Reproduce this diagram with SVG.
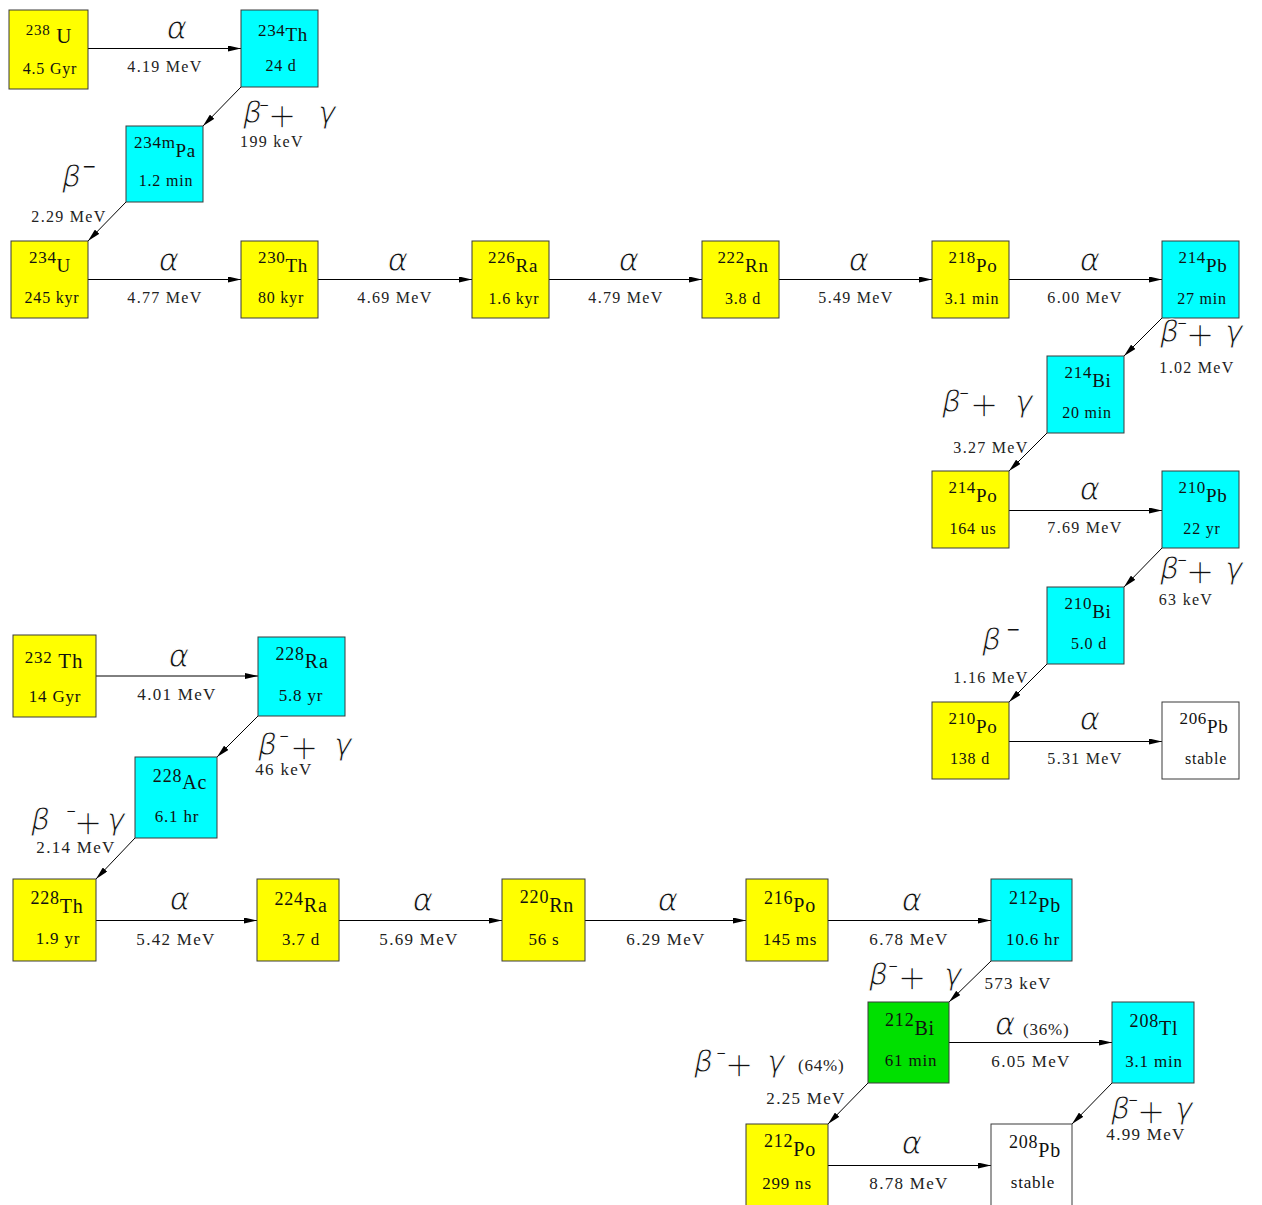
<svg xmlns="http://www.w3.org/2000/svg" width="1262" height="1205" viewBox="0 0 1262 1205">
<style>
.bx{stroke:#3a3a3a;stroke-width:1}
.y{fill:#ffff00}.c{fill:#00ffff}.g{fill:#00e000}.w{fill:#ffffff}
text{font-family:"Liberation Serif","Times New Roman",serif;fill:#111}
.iu{text-anchor:middle;letter-spacing:0.7px}
.iu .a{font-size:17px}.iu .s{font-size:19px}
.it{text-anchor:middle;letter-spacing:0.8px}
.it .a{font-size:18px}.it .s{font-size:20px}
.hu{font-size:16px;text-anchor:middle;letter-spacing:0.8px}
.ht{font-size:17px;text-anchor:middle;letter-spacing:0.8px}
.eu{font-size:16px;text-anchor:middle;letter-spacing:1.3px;fill:#222}
.et{font-size:17px;text-anchor:middle;letter-spacing:1.3px;fill:#222}
.gk{font-family:"DejaVu Sans",sans-serif;font-style:italic;font-size:30px;fill:#111;stroke:#fff;stroke-width:1px}
.al{font-family:"DejaVu Sans",sans-serif;font-style:italic;font-size:31px;text-anchor:middle;fill:#111;stroke:#fff;stroke-width:1px}
.mn{font-family:"DejaVu Sans",sans-serif;font-style:normal;font-size:12px;stroke:none}
.mn2{font-family:"DejaVu Sans",sans-serif;font-style:normal;font-size:17px;stroke:none}
.pl{font-family:"DejaVu Sans",sans-serif;font-style:normal;font-size:36px;stroke-width:1.5px}
.pc{font-family:"Liberation Serif","Times New Roman",serif;font-style:normal;font-size:17px;letter-spacing:0.8px;fill:#222;stroke:none}
.cn line{stroke:#000;stroke-width:1;marker-end:url(#ah)}
</style>
<defs>
<marker id="ah" viewBox="0 0 13 6" refX="13" refY="3" markerWidth="13" markerHeight="6" markerUnits="userSpaceOnUse" orient="auto"><path d="M0,0L13,3L0,6z" fill="#000"/></marker>
</defs>

<g id="connectors" class="cn">
<line x1="88" y1="48.5" x2="241" y2="48.5"/>
<line x1="241" y1="87" x2="203" y2="126"/>
<line x1="126" y1="202" x2="88" y2="241"/>
<line x1="88" y1="279.5" x2="241" y2="279.5"/>
<line x1="318" y1="279.5" x2="472" y2="279.5"/>
<line x1="549" y1="279.5" x2="702" y2="279.5"/>
<line x1="779" y1="279.5" x2="932" y2="279.5"/>
<line x1="1009" y1="279.5" x2="1162" y2="279.5"/>
<line x1="1162" y1="318" x2="1124" y2="356"/>
<line x1="1047" y1="433" x2="1009" y2="471"/>
<line x1="1009" y1="510.5" x2="1162" y2="510.5"/>
<line x1="1162" y1="548" x2="1124" y2="587"/>
<line x1="1047" y1="664" x2="1009" y2="702"/>
<line x1="1009" y1="741.5" x2="1162" y2="741.5"/>
<line x1="96" y1="676" x2="258" y2="676"/>
<line x1="258" y1="716" x2="217" y2="757"/>
<line x1="135" y1="838" x2="96" y2="879"/>
<line x1="96" y1="920.5" x2="257" y2="920.5"/>
<line x1="339" y1="920.5" x2="502" y2="920.5"/>
<line x1="585" y1="920.5" x2="746" y2="920.5"/>
<line x1="828" y1="920.5" x2="991" y2="920.5"/>
<line x1="991" y1="961" x2="949" y2="1002"/>
<line x1="949" y1="1042.5" x2="1112" y2="1042.5"/>
<line x1="868" y1="1083" x2="828" y2="1124"/>
<line x1="1112" y1="1083" x2="1072" y2="1124"/>
<line x1="828" y1="1165.5" x2="991" y2="1165.5"/>
</g>

<g id="u238"><rect class="bx y" x="9" y="10" width="79" height="79"/>
<text class="iu" x="49" y="35"><tspan font-size="15px">238</tspan><tspan font-size="21px" dy="8"> U</tspan></text>
<text class="hu" x="50" y="74">4.5 Gyr</text></g>
<g id="th234"><rect class="bx c" x="241" y="10" width="77" height="77"/>
<text class="iu" x="283" y="36"><tspan class="a">234</tspan><tspan class="s" dy="5">Th</tspan></text>
<text class="hu" x="281" y="71">24 d</text></g>
<g id="pa234m"><rect class="bx c" x="126" y="126" width="77" height="76"/>
<text class="iu" x="165" y="148"><tspan class="a">234m</tspan><tspan class="s" dy="9">Pa</tspan></text>
<text class="hu" x="166" y="186">1.2 min</text></g>
<g id="u234"><rect class="bx y" x="11" y="241" width="77" height="77"/>
<text class="iu" x="50" y="263"><tspan class="a">234</tspan><tspan class="s" dy="9">U</tspan></text>
<text class="hu" x="52" y="303">245 kyr</text></g>
<g id="th230"><rect class="bx y" x="241" y="241" width="77" height="77"/>
<text class="iu" x="283" y="263"><tspan class="a">230</tspan><tspan class="s" dy="9">Th</tspan></text>
<text class="hu" x="281" y="303">80 kyr</text></g>
<g id="ra226"><rect class="bx y" x="472" y="241" width="77" height="77"/>
<text class="iu" x="513" y="263"><tspan class="a">226</tspan><tspan class="s" dy="9">Ra</tspan></text>
<text class="hu" x="514" y="304">1.6 kyr</text></g>
<g id="rn222"><rect class="bx y" x="702" y="241" width="77" height="77"/>
<text class="iu" x="743" y="263"><tspan class="a">222</tspan><tspan class="s" dy="9">Rn</tspan></text>
<text class="hu" x="743" y="304">3.8 d</text></g>
<g id="po218"><rect class="bx y" x="932" y="241" width="77" height="77"/>
<text class="iu" x="973" y="263"><tspan class="a">218</tspan><tspan class="s" dy="9">Po</tspan></text>
<text class="hu" x="972" y="304">3.1 min</text></g>
<g id="pb214"><rect class="bx c" x="1162" y="241" width="77" height="77"/>
<text class="iu" x="1203" y="263"><tspan class="a">214</tspan><tspan class="s" dy="9">Pb</tspan></text>
<text class="hu" x="1202" y="304">27 min</text></g>
<g id="bi214"><rect class="bx c" x="1047" y="356" width="77" height="77"/>
<text class="iu" x="1088" y="378"><tspan class="a">214</tspan><tspan class="s" dy="9">Bi</tspan></text>
<text class="hu" x="1087" y="418">20 min</text></g>
<g id="po214"><rect class="bx y" x="932" y="471" width="77" height="77"/>
<text class="iu" x="973" y="493"><tspan class="a">214</tspan><tspan class="s" dy="9">Po</tspan></text>
<text class="hu" x="973" y="534">164 us</text></g>
<g id="pb210"><rect class="bx c" x="1162" y="471" width="77" height="77"/>
<text class="iu" x="1203" y="493"><tspan class="a">210</tspan><tspan class="s" dy="9">Pb</tspan></text>
<text class="hu" x="1202" y="534">22 yr</text></g>
<g id="bi210"><rect class="bx c" x="1047" y="587" width="77" height="77"/>
<text class="iu" x="1088" y="609"><tspan class="a">210</tspan><tspan class="s" dy="9">Bi</tspan></text>
<text class="hu" x="1089" y="649">5.0 d</text></g>
<g id="po210"><rect class="bx y" x="932" y="702" width="77" height="77"/>
<text class="iu" x="973" y="724"><tspan class="a">210</tspan><tspan class="s" dy="9">Po</tspan></text>
<text class="hu" x="970" y="764">138 d</text></g>
<g id="pb206"><rect class="bx w" x="1162" y="702" width="77" height="77"/>
<text class="iu" x="1204" y="724"><tspan class="a">206</tspan><tspan class="s" dy="9">Pb</tspan></text>
<text class="hu" x="1206" y="764" letter-spacing="1.5px">stable</text></g>

<g id="th232"><rect class="bx y" x="13" y="635" width="83" height="82"/>
<text class="it" x="54" y="663"><tspan font-size="17px">232</tspan><tspan font-size="21px" dy="5"> Th</tspan></text>
<text class="ht" x="55" y="702">14 Gyr</text></g>
<g id="ra228"><rect class="bx c" x="258" y="637" width="87" height="79"/>
<text class="it" x="302" y="660"><tspan class="a">228</tspan><tspan class="s" dy="8">Ra</tspan></text>
<text class="ht" x="301" y="701">5.8 yr</text></g>
<g id="ac228"><rect class="bx c" x="135" y="757" width="82" height="81"/>
<text class="it" x="180" y="782"><tspan class="a">228</tspan><tspan class="s" dy="7">Ac</tspan></text>
<text class="ht" x="177" y="822">6.1 hr</text></g>
<g id="th228"><rect class="bx y" x="13" y="879" width="83" height="82"/>
<text class="it" x="57" y="904"><tspan class="a">228</tspan><tspan class="s" dy="9">Th</tspan></text>
<text class="ht" x="58" y="944">1.9 yr</text></g>
<g id="ra224"><rect class="bx y" x="257" y="879" width="82" height="82"/>
<text class="it" x="301" y="905"><tspan class="a">224</tspan><tspan class="s" dy="7">Ra</tspan></text>
<text class="ht" x="301" y="945">3.7 d</text></g>
<g id="rn220"><rect class="bx y" x="502" y="879" width="83" height="82"/>
<text class="it" x="547" y="903"><tspan class="a">220</tspan><tspan class="s" dy="9">Rn</tspan></text>
<text class="ht" x="544" y="945">56 s</text></g>
<g id="po216"><rect class="bx y" x="746" y="879" width="82" height="82"/>
<text class="it" x="790" y="904"><tspan class="a">216</tspan><tspan class="s" dy="8">Po</tspan></text>
<text class="ht" x="790" y="945">145 ms</text></g>
<g id="pb212"><rect class="bx c" x="991" y="879" width="81" height="82"/>
<text class="it" x="1035" y="904"><tspan class="a">212</tspan><tspan class="s" dy="8">Pb</tspan></text>
<text class="ht" x="1033" y="945">10.6 hr</text></g>
<g id="bi212"><rect class="bx g" x="868" y="1002" width="81" height="81"/>
<text class="it" x="910" y="1026"><tspan class="a">212</tspan><tspan class="s" dy="9">Bi</tspan></text>
<text class="ht" x="911" y="1066">61 min</text></g>
<g id="tl208"><rect class="bx c" x="1112" y="1002" width="82" height="81"/>
<text class="it" x="1154" y="1027"><tspan class="a">208</tspan><tspan class="s" dy="8">Tl</tspan></text>
<text class="ht" x="1154" y="1067">3.1 min</text></g>
<g id="po212"><rect class="bx y" x="746" y="1124" width="82" height="82"/>
<text class="it" x="790" y="1147"><tspan class="a">212</tspan><tspan class="s" dy="9">Po</tspan></text>
<text class="ht" x="787" y="1189">299 ns</text></g>
<g id="pb208"><rect class="bx w" x="991" y="1124" width="81" height="82"/>
<text class="it" x="1035" y="1148"><tspan class="a">208</tspan><tspan class="s" dy="9">Pb</tspan></text>
<text class="ht" x="1033" y="1188">stable</text></g>

<g id="labels">
<text class="al" x="177" y="39">α</text>
<text class="eu" x="165" y="72">4.19 MeV</text>
<text class="gk" y="123"><tspan x="243">β</tspan><tspan class="mn" x="259" y="109">−</tspan><tspan class="pl" x="267" y="128">+</tspan><tspan x="318" y="123">γ</tspan></text>
<text class="eu" x="272" y="147">199 keV</text>
<text class="gk" y="187"><tspan x="62">β</tspan><tspan class="mn2" x="82" y="172">−</tspan></text>
<text class="eu" x="69" y="222">2.29 MeV</text>
<text class="al" x="169" y="271">α</text>
<text class="eu" x="165" y="303">4.77 MeV</text>
<text class="al" x="398" y="271">α</text>
<text class="eu" x="395" y="303">4.69 MeV</text>
<text class="al" x="629" y="271">α</text>
<text class="eu" x="626" y="303">4.79 MeV</text>
<text class="al" x="859" y="271">α</text>
<text class="eu" x="856" y="303">5.49 MeV</text>
<text class="al" x="1090" y="271">α</text>
<text class="eu" x="1085" y="303">6.00 MeV</text>
<text class="gk" y="342"><tspan x="1160">β</tspan><tspan class="mn" x="1177" y="327">−</tspan><tspan class="pl" x="1185" y="347">+</tspan><tspan x="1225" y="342">γ</tspan></text>
<text class="eu" x="1197" y="373">1.02 MeV</text>
<text class="gk" y="412"><tspan x="942">β</tspan><tspan class="mn" x="959" y="397">−</tspan><tspan class="pl" x="969" y="417">+</tspan><tspan x="1015" y="412">γ</tspan></text>
<text class="eu" x="991" y="453">3.27 MeV</text>
<text class="al" x="1090" y="500">α</text>
<text class="eu" x="1085" y="533">7.69 MeV</text>
<text class="gk" y="579"><tspan x="1160">β</tspan><tspan class="mn" x="1177" y="564">−</tspan><tspan class="pl" x="1185" y="584">+</tspan><tspan x="1225" y="579">γ</tspan></text>
<text class="eu" x="1186" y="605">63 keV</text>
<text class="gk" y="650"><tspan x="982">β</tspan><tspan class="mn2" x="1006" y="635">−</tspan></text>
<text class="eu" x="991" y="683">1.16 MeV</text>
<text class="al" x="1090" y="730">α</text>
<text class="eu" x="1085" y="764">5.31 MeV</text>

<text class="al" x="179" y="667">α</text>
<text class="et" x="177" y="700">4.01 MeV</text>
<text class="gk" y="755"><tspan x="258">β</tspan><tspan class="mn" x="279" y="740">−</tspan><tspan class="pl" x="289" y="760">+</tspan><tspan x="334" y="755">γ</tspan></text>
<text class="et" x="284" y="775">46 keV</text>
<text class="gk" y="830"><tspan x="31">β</tspan><tspan class="mn" x="66" y="815">−</tspan><tspan class="pl" x="73" y="835">+</tspan><tspan x="107" y="830">γ</tspan></text>
<text class="et" x="76" y="853">2.14 MeV</text>
<text class="al" x="180" y="910">α</text>
<text class="et" x="176" y="945">5.42 MeV</text>
<text class="al" x="423" y="911">α</text>
<text class="et" x="419" y="945">5.69 MeV</text>
<text class="al" x="668" y="911">α</text>
<text class="et" x="666" y="945">6.29 MeV</text>
<text class="al" x="912" y="911">α</text>
<text class="et" x="909" y="945">6.78 MeV</text>
<text class="gk" y="985"><tspan x="869">β</tspan><tspan class="mn" x="888" y="970">−</tspan><tspan class="pl" x="897" y="990">+</tspan><tspan x="944" y="985">γ</tspan></text>
<text class="et" x="1018" y="989">573 keV</text>
<text class="gk" y="1035"><tspan font-size="31px" x="995">α</tspan><tspan class="pc" x="1023" y="1035">(36%)</tspan></text>
<text class="et" x="1031" y="1067">6.05 MeV</text>
<text class="gk" y="1072"><tspan x="694">β</tspan><tspan class="mn" x="716" y="1057">−</tspan><tspan class="pl" x="724" y="1077">+</tspan><tspan x="767" y="1072">γ</tspan><tspan class="pc" x="798" y="1071">(64%)</tspan></text>
<text class="et" x="806" y="1104">2.25 MeV</text>
<text class="al" x="912" y="1154">α</text>
<text class="et" x="909" y="1189">8.78 MeV</text>
<text class="gk" y="1119"><tspan x="1111">β</tspan><tspan class="mn" x="1128" y="1104">−</tspan><tspan class="pl" x="1136" y="1124">+</tspan><tspan x="1175" y="1119">γ</tspan></text>
<text class="et" x="1146" y="1140">4.99 MeV</text>
</g>
</svg>
